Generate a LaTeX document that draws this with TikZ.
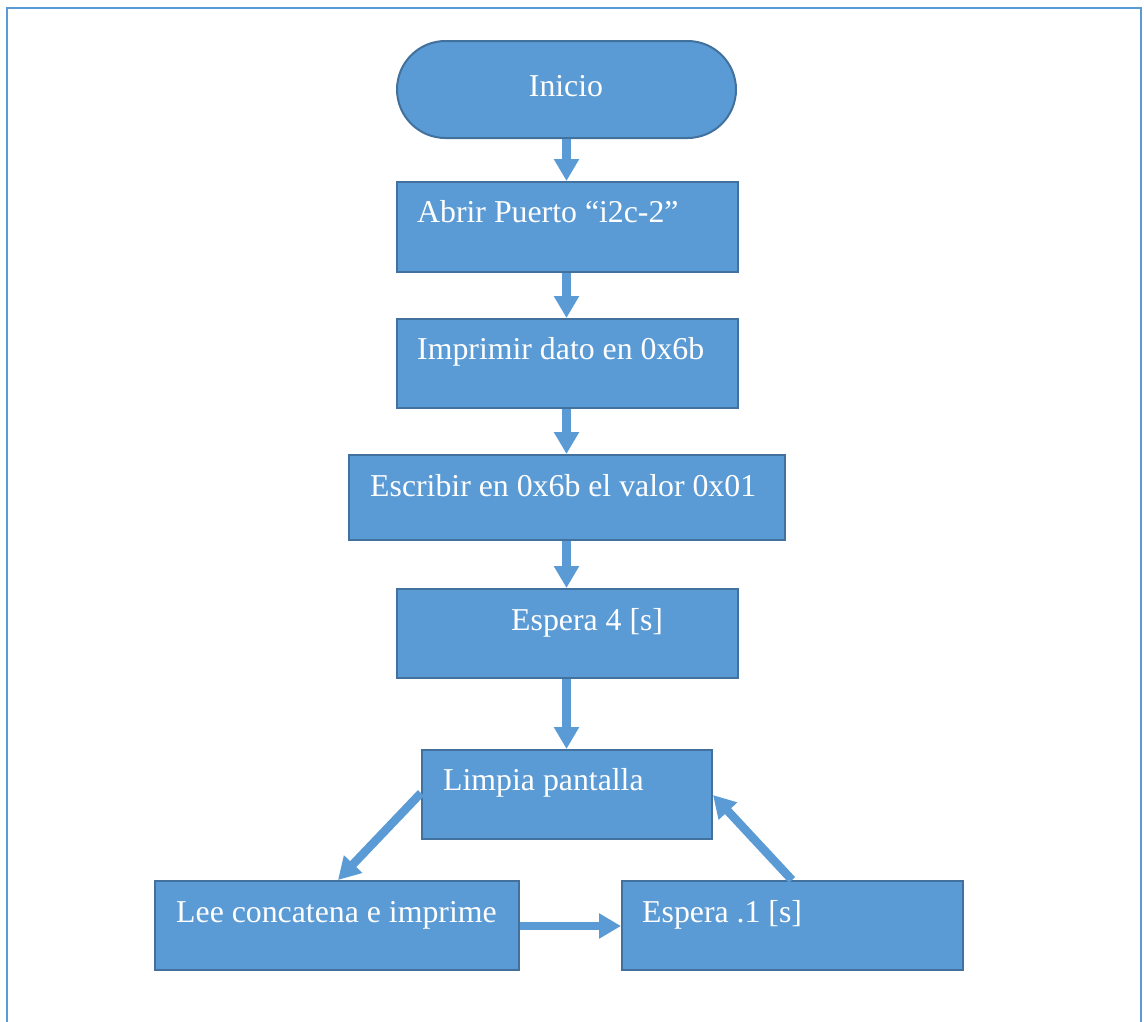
\documentclass[tikz,border=0pt]{standalone}
\usepackage{fontspec}
\setmainfont{Liberation Serif}
\usetikzlibrary{arrows.meta,shapes.misc}
\definecolor{boxfill}{HTML}{5B9BD5}
\definecolor{boxedge}{HTML}{41719C}
\begin{document}
\begin{tikzpicture}[x=1pt,y=-1pt,
  box/.style={draw=boxedge,fill=boxfill,line width=2pt,rectangle,anchor=north west,inner sep=0pt},
  txt/.style={text=white,anchor=base west,inner sep=0pt,font=\fontsize{31.8}{36}\selectfont},
  flow/.style={draw=boxfill,line width=8.5pt,-{Triangle[width=24pt,length=22pt]}}]
  \useasboundingbox (0,0) rectangle (1144,1021);
  % outer frame (open at the bottom)
  \draw[boxfill,line width=2pt] (7,1025) -- (7,8) -- (1141,8) -- (1141,1025);
  % start terminal
  \node[draw=boxedge,fill=boxfill,line width=2pt,rounded rectangle,inner sep=0pt,
        minimum width=339pt,minimum height=97pt] (ini) at (566.5,89.5) {};
  \node[txt,anchor=base] (tini) at (566,96) {Inicio};
  % process boxes
  \node[box,minimum width=341pt,minimum height=90pt] (b1) at (396,181) {};
  \node[txt] (t1) at (417,222) {Abrir Puerto “i2c-2”};
  \node[box,minimum width=341pt,minimum height=89pt] (b2) at (396,318) {};
  \node[txt] (t2) at (417,359) {Imprimir dato en 0x6b};
  \node[box,minimum width=436pt,minimum height=85pt] (b3) at (348,454) {};
  \node[txt] (t3) at (370,496) {Escribir en 0x6b el valor 0x01};
  \node[box,minimum width=341pt,minimum height=89pt] (b4) at (396,588) {};
  \node[txt] (t4) at (511,630) {Espera 4 [s]};
  \node[box,minimum width=290pt,minimum height=89pt] (b5) at (421,749) {};
  \node[txt] (t5) at (443,790) {Limpia pantalla};
  \node[box,minimum width=364pt,minimum height=89pt] (b6) at (154,880) {};
  \node[txt] (t6) at (176,922) {Lee concatena e imprime};
  \node[box,minimum width=341pt,minimum height=89pt] (b7) at (621,880) {};
  \node[txt] (t7) at (642,922) {Espera .1 [s]};
  % connectors
  \coordinate (c5w) at ([yshift=-44pt]b5.north west);
  \coordinate (c5e) at ([yshift=-46pt]b5.north east);
  \coordinate (c6n) at ([xshift=184pt]b6.north west);
  \coordinate (c6e) at ([yshift=-46pt]b6.north east);
  \coordinate (c7w) at ([yshift=-46pt]b7.north west);
  \coordinate (c7n) at ([xshift=171pt]b7.north west);
  \draw[flow] (ini.south) -- (ini.south |- b1.north);
  \draw[flow] (ini.south |- b1.south) -- (ini.south |- b2.north);
  \draw[flow] (ini.south |- b2.south) -- (ini.south |- b3.north);
  \draw[flow] (ini.south |- b3.south) -- (ini.south |- b4.north);
  \draw[flow] (ini.south |- b4.south) -- (ini.south |- b5.north);
  \draw[flow] (c5w) -- (c6n);
  \draw[flow] (c6e) -- (c7w);
  \draw[flow] (c7n) -- (c5e);
\end{tikzpicture}
\end{document}
